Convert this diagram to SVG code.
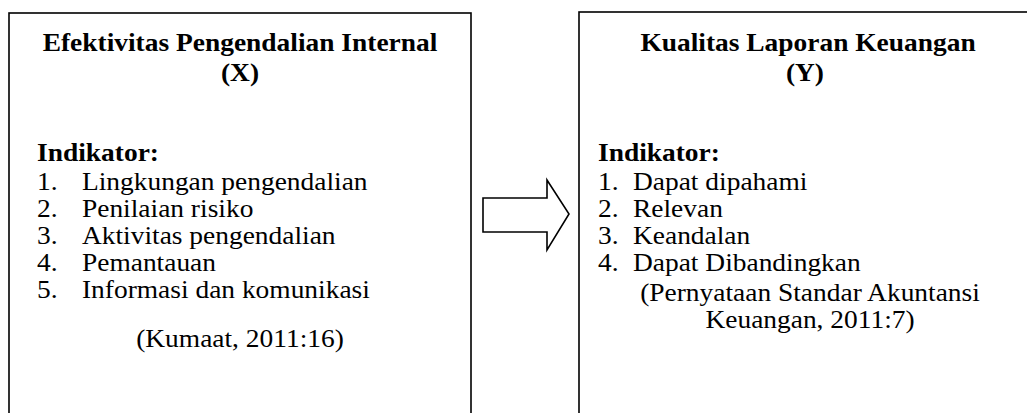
<svg xmlns="http://www.w3.org/2000/svg" width="1027" height="413" viewBox="0 0 1027 413">
<style>
.box{fill:#fff;stroke:#000;stroke-width:1.6}
.arrow{fill:#fff;stroke:#000;stroke-width:1.6;stroke-linejoin:miter}
text{font-family:"Liberation Serif","Times New Roman",serif;font-size:26px;fill:#000}
.b{font-weight:bold}
.c{text-anchor:middle}
</style>
<rect width="1027" height="413" fill="#fff"/>
<g id="node-x">
<rect class="box" x="9" y="13" width="462" height="420"/>
<g transform="scale(1.055 1)">
<text class="b c" x="227.5" y="51">Efektivitas Pengendalian Internal</text>
<text class="b c" x="227.5" y="81">(X)</text>
<text class="b" x="35.1" y="161">Indikator:</text>
<text x="35.1" y="190">1.</text><text x="77.7" y="190">Lingkungan pengendalian</text>
<text x="35.1" y="217">2.</text><text x="77.7" y="217">Penilaian risiko</text>
<text x="35.1" y="244">3.</text><text x="77.7" y="244">Aktivitas pengendalian</text>
<text x="35.1" y="271">4.</text><text x="77.7" y="271">Pemantauan</text>
<text x="35.1" y="298">5.</text><text x="77.7" y="298">Informasi dan komunikasi</text>
<text class="c" x="227.5" y="347">(Kumaat, 2011:16)</text>
</g>
</g>
<g id="node-y">
<rect class="box" x="579" y="12" width="460" height="420"/>
<g transform="scale(1.055 1)">
<text class="b c" x="765.9" y="51">Kualitas Laporan Keuangan</text>
<text class="b c" x="763" y="81">(Y)</text>
<text class="b" x="566.8" y="161">Indikator:</text>
<text x="566.8" y="190">1.</text><text x="600" y="190">Dapat dipahami</text>
<text x="566.8" y="217">2.</text><text x="600" y="217">Relevan</text>
<text x="566.8" y="244">3.</text><text x="600" y="244">Keandalan</text>
<text x="566.8" y="271">4.</text><text x="600" y="271">Dapat Dibandingkan</text>
<text class="c" x="767.8" y="301">(Pernyataan Standar Akuntansi</text>
<text class="c" x="767.8" y="328">Keuangan, 2011:7)</text>
</g>
</g>
<g id="connectors">
<polygon class="arrow" points="483,198 547,198 547,180 569,214 547,250 547,232 483,232"/>
</g>
</svg>
